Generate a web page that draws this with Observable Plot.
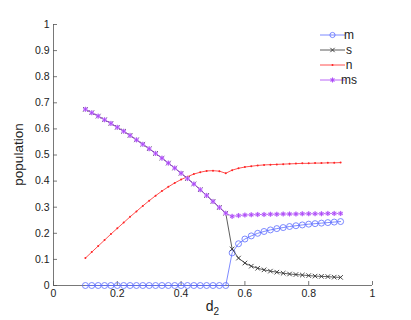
<!DOCTYPE html>
<html><head><meta charset="utf-8">
<script src="https://cdn.jsdelivr.net/npm/d3@7"></script>
<script src="https://cdn.jsdelivr.net/npm/@observablehq/plot@0.6"></script>
<style>
body{margin:0;background:#fff}
#chart svg{font-family:"Liberation Sans",Arial,Helvetica,sans-serif}
</style>
</head><body><div id="chart"></div>
<script>
const d2 = [0.10,0.12,0.14,0.16,0.18,0.20,0.22,0.24,0.26,0.28,0.30,0.32,0.34,0.36,0.38,0.40,0.42,0.44,0.46,0.48,0.50,0.52,0.54,0.56,0.58,0.60,0.62,0.64,0.66,0.68,0.70,0.72,0.74,0.76,0.78,0.80,0.82,0.84,0.86,0.88,0.90];
const mVals = [0,0,0,0,0,0,0,0,0,0,0,0,0,0,0,0,0,0,0,0,0,0,0,
  0.125,0.16,0.178,0.19,0.2,0.207,0.213,0.218,0.222,0.226,0.229,0.232,0.235,0.237,0.239,0.241,0.243,0.245];
const msVals = [0.675,0.662,0.649,0.635,0.621,0.606,0.591,0.575,0.558,0.541,0.524,0.506,0.488,0.469,0.45,0.43,0.41,0.389,0.367,0.345,0.322,0.299,0.277,
  0.265,0.268,0.270,0.271,0.272,0.272,0.273,0.273,0.274,0.274,0.274,0.275,0.275,0.275,0.275,0.276,0.276,0.276];
const sVals = [0.675,0.662,0.649,0.635,0.621,0.606,0.591,0.575,0.558,0.541,0.524,0.506,0.488,0.469,0.45,0.43,0.41,0.389,0.367,0.345,0.322,0.299,0.277,
  0.14,0.105,0.086,0.074,0.066,0.060,0.055,0.051,0.047,0.044,0.042,0.040,0.038,0.036,0.035,0.034,0.032,0.031];
const nVals = [0.105,0.128,0.151,0.174,0.197,0.219,0.241,0.263,0.284,0.305,0.325,0.344,0.362,0.378,0.393,0.406,0.417,0.427,0.434,0.439,0.44,0.438,0.43,
  0.442,0.449,0.454,0.457,0.46,0.462,0.463,0.464,0.465,0.466,0.467,0.468,0.468,0.469,0.469,0.47,0.47,0.471];
const xTicks = [0,0.2,0.4,0.6,0.8,1];
const yTicks = [0,0.1,0.2,0.3,0.4,0.5,0.6,0.7,0.8,0.9,1];
const seriesNames = ["m","s","n","ms"];
const colors = {m:"#5c6cff", s:"#333333", n:"#ff2424", ms:"#a840f5"};
const msHalo = "#ddb4ff";

const rows = d2.map((x,i)=>({x, m:mVals[i], s:sVals[i], n:nVals[i], ms:msVals[i]}));
const axisColor = "#555";

const plot = Plot.plot({
  width:411, height:320,
  marginLeft:53, marginRight:39, marginTop:24, marginBottom:35,
  style:{fontFamily:'"Liberation Sans",Arial,sans-serif', fontSize:"10.5px", color:"#222", background:"#fff"},
  x:{domain:[0,1]},
  y:{domain:[0,1]},
  marks:[
    Plot.ruleX([0], {stroke:axisColor, strokeWidth:0.8}),
    Plot.ruleY([0], {stroke:axisColor, strokeWidth:0.8}),
    Plot.axisX({ticks:xTicks, tickSize:-4, tickPadding:8, tickFormat:d=>String(d), label:null, stroke:axisColor, strokeWidth:0.8, fill:"#222"}),
    Plot.axisY({ticks:yTicks, tickSize:-4, tickPadding:8, tickFormat:d=>String(d), label:null, stroke:axisColor, strokeWidth:0.8, fill:"#222"}),
    // m
    Plot.line(rows, {x:"x", y:"m", stroke:colors.m, strokeWidth:0.8}),
    Plot.dot(rows, {x:"x", y:"m", symbol:"circle", r:3, stroke:colors.m, strokeWidth:0.8, fill:"none"}),
    // n
    Plot.line(rows, {x:"x", y:"n", stroke:colors.n, strokeWidth:0.8}),
    Plot.dot(rows, {x:"x", y:"n", r:1, fill:colors.n, stroke:"none"}),
    // s
    Plot.line(rows, {x:"x", y:"s", stroke:colors.s, strokeWidth:0.8}),
    Plot.dot(rows, {x:"x", y:"s", symbol:"times", r:2.2, stroke:colors.s, strokeWidth:0.9}),
    // ms
    Plot.line(rows, {x:"x", y:"ms", stroke:colors.ms, strokeWidth:0.8}),
    Plot.dot(rows, {x:"x", y:"ms", r:2.3, fill:msHalo, stroke:"none"}),
    Plot.dot(rows, {x:"x", y:"ms", symbol:"asterisk", r:2.4, stroke:colors.ms, strokeWidth:0.8})
  ]
});
document.getElementById("chart").appendChild(plot);

const svg = d3.select(plot);
const xs = plot.scale("x"), ys = plot.scale("y");
// axis labels
svg.append("text")
  .attr("transform", `translate(23,${(ys.apply(0)+ys.apply(1))/2}) rotate(-90)`)
  .attr("text-anchor","middle").attr("font-size","13.5px").attr("fill","#222")
  .text("population");
const xl = svg.append("text")
  .attr("x", (xs.apply(0)+xs.apply(1))/2).attr("y", 311)
  .attr("text-anchor","middle").attr("font-size","14px").attr("fill","#222");
xl.append("tspan").text("d");
xl.append("tspan").attr("dy","4").attr("font-size","10px").text("2");

// legend
const legY = [35,50,65,80];
const lg = svg.append("g");
seriesNames.forEach((k,i)=>{
  const y = legY[i];
  lg.append("line").attr("x1",320).attr("x2",345).attr("y1",y).attr("y2",y)
    .attr("stroke",colors[k]).attr("stroke-width",0.8);
  const cx = 332.5;
  if (k==="m") lg.append("circle").attr("cx",cx).attr("cy",y).attr("r",2.6).attr("fill","none").attr("stroke",colors.m).attr("stroke-width",0.8);
  if (k==="s") lg.append("path").attr("transform",`translate(${cx},${y})`).attr("d",d3.symbol(d3.symbolTimes, 14)()).attr("stroke",colors.s).attr("fill","none").attr("stroke-width",0.9);
  if (k==="n") lg.append("circle").attr("cx",cx).attr("cy",y).attr("r",1).attr("fill",colors.n);
  if (k==="ms") {
    lg.append("circle").attr("cx",cx).attr("cy",y).attr("r",2.3).attr("fill",msHalo);
    lg.append("path").attr("transform",`translate(${cx},${y})`).attr("d",d3.symbol(d3.symbolAsterisk, 18)()).attr("stroke",colors.ms).attr("fill","none").attr("stroke-width",0.8);
  }
  lg.append("text").attr("x",349).attr("y",y).attr("dy","0.35em").attr("font-size","12px").attr("fill","#222").text(k);
});
</script>
</body></html>
